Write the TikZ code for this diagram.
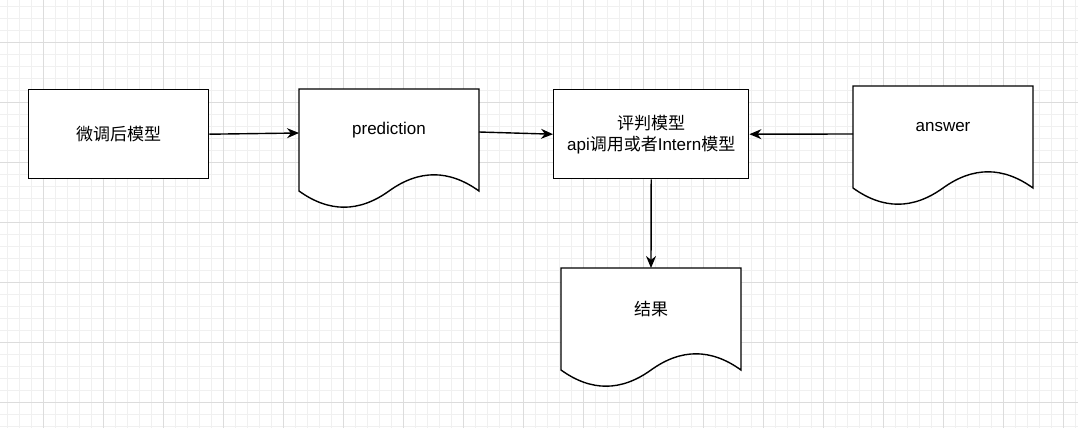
\documentclass[tikz,border=0pt]{standalone}
\usepackage{fontspec}
\setmainfont{Liberation Sans}
\newfontfamily\cjk{Noto Sans CJK SC}
\usetikzlibrary{arrows.meta}
\definecolor{minorg}{HTML}{F0F0F0}
\definecolor{majorg}{HTML}{DCDCDC}
\tikzset{
  boxs/.style={draw,line width=1.4pt,minimum width=180pt,minimum height=89pt,anchor=north west,inner sep=0pt,align=center,font=\fontsize{17}{21}\selectfont},
  doctxt/.style={inner sep=0pt,align=center,font=\fontsize{17}{21}\selectfont},
  docline/.style={draw,line width=1.4pt,fill=white},
  arr/.style={-{Stealth[length=12pt,width=10pt]},line width=1.4pt}
}
% #1 x, #2 y (top), #3 name, #4 text ; w=180 h=120
\newcommand{\mydoc}[4]{%
  \begin{scope}[shift={(#1,#2)}]
  \path[docline] (0,0) -- (180,0) -- (180,102) .. controls (150,80.4) and (120,80.4) .. (90,102)
     .. controls (60,123.6) and (30,123.6) .. (0,102) -- cycle;
  \end{scope}
  \node[doctxt] (#3) at (#1+90,#2+41) {#4};
  \coordinate (#3W) at (#1,#2+44);
  \coordinate (#3E) at (#1+180,#2+43);
  \coordinate (#3N) at (#1+90,#2);
}
\begin{document}
\begin{tikzpicture}[x=1pt,y=-1pt]
\fill[white] (0,0) rectangle (1078,428);
\useasboundingbox (0,0) rectangle (1078,428);
\foreach \i in {0,...,90} {\draw[minorg,line width=0.8pt] (7+12*\i,0) -- (7+12*\i,428);}
\foreach \i in {0,...,36} {\draw[minorg,line width=0.8pt] (0,6+12*\i) -- (1078,6+12*\i);}
\foreach \i in {0,...,18} {\draw[majorg,line width=0.8pt] (43+60*\i,0) -- (43+60*\i,428);}
\foreach \i in {0,...,7} {\draw[majorg,line width=0.8pt] (0,42+60*\i) -- (1078,42+60*\i);}
\node[boxs,fill=white] (m) at (28,89) {\cjk 微调后模型};
\node[boxs,fill=white,minimum width=195pt] (j) at (553,89) {{\cjk 评判模型}\\api{\cjk 调用或者}Intern{\cjk 模型}};
\mydoc{299}{89}{p}{prediction}
\mydoc{853}{86}{a}{answer}
\mydoc{561}{268}{r}{\cjk 结果}
\coordinate (aW2) at (853,134);
\draw[arr] (m.east) -- (pW);
\draw[arr] (pE) -- (j.west);
\draw[arr] (aW2) -- (j.east);
\draw[arr] (j.south) -- (rN);
\end{tikzpicture}
\end{document}
